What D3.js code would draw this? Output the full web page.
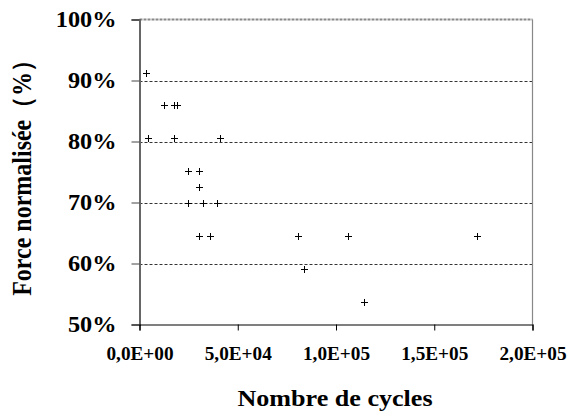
<!DOCTYPE html>
<html>
<head>
<meta charset="utf-8">
<script src="https://cdn.jsdelivr.net/npm/d3@7/dist/d3.min.js"></script>
<style>
  html, body { margin: 0; padding: 0; background: #fff; }
  svg { display: block; }
  svg text { font-family: "Liberation Serif", serif; font-weight: bold; fill: #000; }
</style>
</head>
<body>
<svg id="chart" width="568" height="412"></svg>
<script>
const cycles = [3400, 12400, 17650, 19000, 4270, 17800, 41200, 24900, 30400, 30400,
                24900, 32300, 39400, 30400, 35800, 80900, 106000, 83500, 114200, 171900];
const force = [91.2, 86, 86, 86, 80.5, 80.5, 80.5, 75.2, 75.2, 72.6,
               70, 70, 70, 64.5, 64.5, 64.5, 64.5, 59.1, 53.7, 64.5];
const xTicks = [0, 50000, 100000, 150000, 200000];
const xTickLabels = ["0,0E+00", "5,0E+04", "1,0E+05", "1,5E+05", "2,0E+05"];
const yTicks = [50, 60, 70, 80, 90, 100];
const yTickLabels = ["50%", "60%", "70%", "80%", "90%", "100%"];
const xTitle = "Nombre de cycles";
const yTitle = "Force normalisée（%）";

const svg = d3.select("#chart");
const L = 139.5, R = 532.5, T = 19.5, B = 324.5;
const x = d3.scaleLinear().domain([0, 200000]).range([L, R]);
const y = d3.scaleLinear().domain([50, 100]).range([B, T]);

// gridlines
svg.append("g").selectAll("line").data(yTicks.filter(v => v > 50 && v < 100)).join("line")
  .attr("x1", L).attr("x2", R).attr("y1", d => Math.round(y(d)) + 0.5).attr("y2", d => Math.round(y(d)) + 0.5)
  .attr("stroke", "#000").attr("stroke-width", 0.8).attr("stroke-dasharray", "3,2");

// top border (dashed gray) and right border
svg.append("line").attr("x1", L).attr("x2", R).attr("y1", y(100)).attr("y2", y(100))
  .attr("stroke", "#888").attr("stroke-width", 2).attr("stroke-dasharray", "3,1");
svg.append("line").attr("x1", R).attr("x2", R).attr("y1", T).attr("y2", B)
  .attr("stroke", "#888").attr("stroke-width", 1.2);

function stretch(sx) {
  return sel => sel.each(function () {
    const t = d3.select(this);
    const x0 = +t.attr("x") || 0;
    t.attr("transform", `translate(${x0},0) scale(${sx},1) translate(${-x0},0)`);
  });
}

// y axis
const yAxis = d3.axisLeft(y).tickValues(yTicks).tickSize(8).tickPadding(15)
  .tickFormat((d, i) => yTickLabels[i]);
const gy = svg.append("g").attr("transform", `translate(${L},0)`).call(yAxis)
  .attr("font-family", "Liberation Serif").attr("font-size", 22.5).attr("font-weight", "bold");
gy.select(".domain").attr("stroke", "#666").attr("stroke-width", 2);
gy.selectAll(".tick line").attr("stroke", "#444");
gy.selectAll(".tick text").call(stretch(1.08));

// x axis
const xAxis = d3.axisBottom(x).tickValues(xTicks).tickSize(6).tickPadding(16)
  .tickFormat((d, i) => xTickLabels[i]);
const gx = svg.append("g").attr("transform", `translate(0,${B})`).call(xAxis)
  .attr("font-family", "Liberation Serif").attr("font-size", 18.5).attr("font-weight", "bold");
gx.select(".domain").attr("stroke", "#000").attr("stroke-width", 1.2);
gx.selectAll(".tick line").attr("stroke", "#000");
gx.selectAll(".tick text").call(stretch(1.04));

// points (plus markers)
const s = 3.5;
const pts = svg.append("g");
cycles.forEach((c, i) => {
  const px = Math.round(x(c)) + 0.5, py = Math.round(y(force[i])) + 0.5;
  pts.append("path")
    .attr("d", `M${px - s},${py}H${px + s}M${px},${py - s}V${py + s}`)
    .attr("stroke", "#000").attr("stroke-width", 1).attr("fill", "none");
});

// titles
svg.append("text").attr("transform", `translate(335,406) scale(1.16,1)`).attr("text-anchor", "middle")
  .style("font-size", "22.5px").text(xTitle);
svg.append("text").attr("transform", `translate(31,172) rotate(-90) scale(1,1.1)`).attr("text-anchor", "middle")
  .style("font-size", "24px").text(yTitle);
</script>
</body>
</html>
